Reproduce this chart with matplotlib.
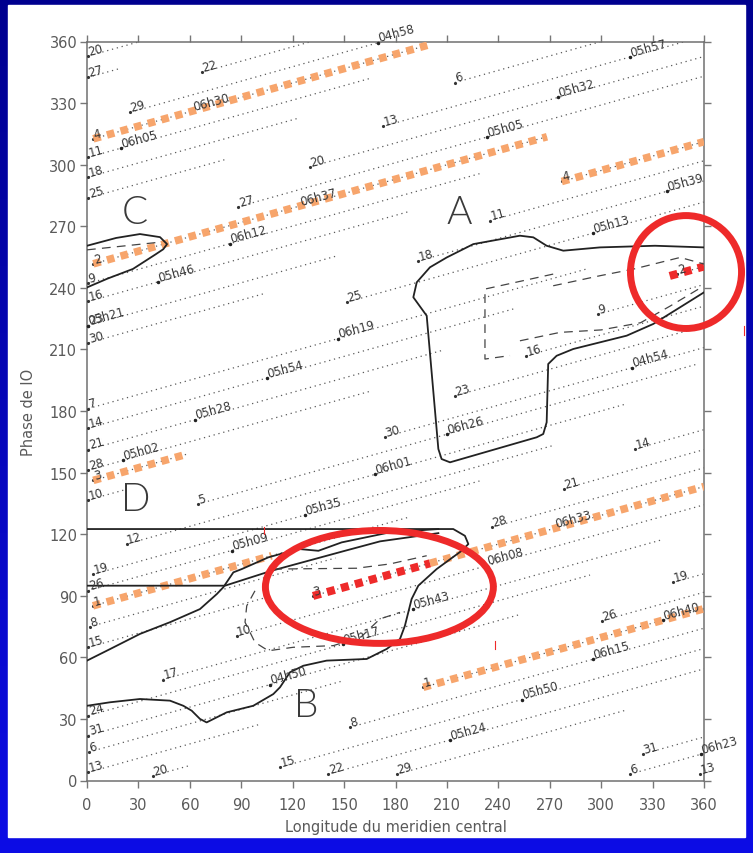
import numpy as np
import matplotlib.pyplot as plt
from matplotlib.patches import Ellipse, Rectangle

# observation tracks: day label, start and end (central meridian longitude, Io phase)
track_day = ["20", "27", "22", "29", "4", "11", "18", "25", "6", "13",
             "20", "27", "2", "9", "16", "23", "30", "4", "11", "18",
             "25", "7", "14", "21", "28", "3", "10", "30", "23", "16",
             "9", "2", "5", "12", "19", "26", "1", "8", "15", "17",
             "24", "31", "6", "13", "20", "15", "22", "29", "8", "1",
             "26", "19", "31", "6", "13", "28", "21", "14", "3", "10"]
track_lon0 = [0.5, 0.5, 66.9, 25.1, 3.7, 0.8, 0.8, 0.8, 214.7, 172.9,
              130.1, 88.3, 3.7, 0.8, 0.8, 0.8, 0.8, 277, 235.1, 193.3,
              151.5, 0.8, 0.8, 0.8, 0.8, 3.7, 0.8, 173.9, 214.7, 256.4,
              298.3, 344.5, 64.9, 23.2, 3.5, 0.8, 3.5, 1.5, 0.8, 44.3,
              0.8, 0.8, 1.2, 0.8, 38.5, 112.8, 140.8, 180.7, 153.4, 196.2,
              300.3, 342, 324.4, 316.8, 357.6, 236.1, 278.3, 319.7, 131.9, 87.3]
track_ph0 = [352.9, 342.5, 345.0, 325.5, 312.6, 303.6, 294.0, 283.8, 340.0, 318.7,
             298.9, 279.5, 251.7, 242.2, 233.4, 221.6, 213.2, 291.8, 272.7, 253.1,
             233.0, 181.2, 171.7, 161.2, 151.2, 146.2, 136.7, 167.4, 187.4, 206.9,
             227.2, 246.8, 134.7, 115.2, 100.4, 92.5, 85.1, 74.9, 64.9, 49.2,
             31.6, 21.9, 13.9, 4.0, 2.3, 6.5, 3.1, 3.0, 25.9, 45.4,
             77.8, 96.5, 12.9, 3.1, 3.1, 123.3, 142.1, 161.5, 89.9, 70.5]
track_lon1 = [31, 19, 131, 172, 200, 165, 124, 81.5, 300, 349,
              360, 360, 268.4, 229, 188, 146, 103, 360, 360, 360,
              360, 292, 250, 208, 166, 58, 22, 360, 360, 360,
              360, 360, 355, 314, 272, 229, 187, 145, 103, 336,
              293.5, 251.5, 150, 101, 60, 360, 360, 315, 360, 360,
              360, 360, 360, 360, 360, 360, 360, 360, 360, 360]
track_ph1 = [360.0, 346.8, 360.0, 359.9, 358.5, 342.0, 322.8, 302.7, 360.0, 360.0,
             352.7, 343.1, 313.6, 295.6, 277.2, 255.6, 237.1, 311.2, 301.9, 292.1,
             281.8, 249.3, 230.0, 209.7, 189.8, 158.9, 141.6, 210.9, 221.4, 231.1,
             241.6, 250.4, 202.6, 183.3, 163.2, 145.9, 128.1, 108.4, 88.8, 117.4,
             100.1, 80.6, 48.7, 27.4, 7.3, 64.3, 54.4, 34.4, 74.2, 83.7,
             91.7, 100.7, 21.2, 13.2, 3.6, 152.3, 161.2, 170.9, 143.2, 134.3]

# times marked along the tracks
time_lbl = ["04h58", "06h30", "06h05", "05h57", "05h32", "05h05", "06h37", "06h12",
            "05h46", "05h21", "05h39", "05h13", "06h19", "05h54", "05h28", "05h02",
            "06h26", "04h54", "06h01", "05h35", "05h09", "06h08", "06h33", "05h43",
            "05h17", "04h50", "06h15", "06h40", "05h50", "05h24", "06h23"]
time_lon = [170, 62, 20, 316.8, 275, 233.2, 124.3, 83.4,
            41.6, 0.8, 338.2, 295.4, 146.6, 104.8, 63.0, 21.2,
            209.9, 317.8, 168.0, 127.2, 84.4, 233.2, 273.0, 190.4,
            149.4, 106.8, 295.4, 336.2, 253.6, 211.8, 358.0]
time_ph = [359.4, 326.2, 308.1, 352.3, 332.9, 313.4, 279.9, 261.5,
           242.9, 221.6, 287.0, 266.6, 215.3, 196.0, 175.8, 156.0,
           168.6, 201.1, 149.1, 129.4, 112.0, 104.7, 122.9, 83.4,
           66.4, 46.7, 59.1, 78.2, 39.4, 19.8, 12.8]

# highlighted stretches of track
orange_lon0 = [3.7, 3.7, 277, 3.7, 3.5, 200.1, 196.2]
orange_ph0 = [312.6, 251.7, 291.8, 146.2, 85.1, 105.8, 45.4]
orange_lon1 = [200, 268.4, 360, 58, 107.7, 360, 360]
orange_ph1 = [358.5, 313.6, 311.2, 158.9, 109.5, 143.2, 83.7]
red_lon0 = [131.9, 340]
red_ph0 = [89.9, 245.8]
red_lon1 = [200.1, 360]
red_ph1 = [105.8, 250.4]

# emission regions
region_name = ["A", "B", "C", "D"]
region_lon = [217, 128, 28, 28.6]
region_ph = [277, 37, 277, 137]

a_lon = [360, 331.4, 299.3, 277.9, 268.2, 260.4, 252.6, 225.4, 209.9, 200.1, 192.4,
         190.4, 198.2, 205, 206.9, 211.8, 262.4, 266.2, 268.2, 269.1, 274, 283.7,
         314.9, 330.4, 346, 360]
a_ph = [259.7, 260.5, 259.7, 258.1, 260.5, 264.6, 265.4, 261.3, 254.8, 250, 242.7,
        235.4, 226.4, 161.5, 156.6, 155, 167.2, 168.8, 174.5, 202.9, 206.9, 210.2,
        216.7, 222.4, 230.5, 237.8]
a_dash1_lon = [272, 232.2, 232.2, 246.8]
a_dash1_ph = [246.7, 239.4, 205.3, 207.0]
a_dash2_lon = [252.6, 276, 300, 323, 340, 358]
a_dash2_ph = [214.2, 218.3, 219.5, 223, 231, 240]
a_dash3_lon = [272, 299.3, 318.7, 346.1, 360]
a_dash3_ph = [241, 245.9, 249.1, 254.8, 251.6]

b_outer_lon = [0, 213.7, 220.5, 222.5, 218.6, 204, 193.3, 189.4, 185.5, 182.6, 174.9,
               163.2, 139.8, 126.2, 118.4, 112.6, 108.7, 97, 81.5, 69.8, 65.9, 61.1,
               56.2, 48.4, 30.9, 13.4, 0]
b_outer_ph = [122.5, 122.5, 119.2, 115.2, 111.9, 103, 94.9, 88.4, 75.4, 68.9, 64.1,
              59.2, 58.4, 55.9, 52.7, 45.4, 42.1, 36.4, 33.2, 28.3, 30, 34,
              36.4, 38.9, 39.7, 38.1, 36.4]
b_upper_lon = [0, 13.4, 30.9, 48.4, 65.9, 75.7, 79.5, 85.4, 90.3, 105.8, 123.3, 135,
               148.6, 176.8, 205]
b_upper_ph = [58.4, 64, 71.4, 77.1, 83.5, 90.8, 94.1, 101.4, 103, 108.7, 112.8, 111.9,
              116, 120.9, 122.5]
b_inner_lon = [0, 80.5, 107.8, 150.5, 171, 205]
b_inner_ph = [94.9, 94.9, 102.2, 111.9, 116.5, 120.5]
b_dash1_lon = [108.7, 157.3, 176.8, 198.2]
b_dash1_ph = [103, 103.4, 105.5, 109.5]
b_dash2_lon = [98, 93.2, 92.2, 98, 105.8, 120.4, 143.7, 160, 170.9, 182.6]
b_dash2_ph = [92.4, 85.1, 77.1, 67.3, 63.2, 64.9, 65.7, 70, 78.7, 81.9]

c_lon = [0, 17, 30.9, 42.6, 46.7, 44.5, 40, 26.8, 12, 0]
c_ph = [260.5, 264.3, 266.2, 264.7, 261.3, 258.8, 256.3, 249.2, 244.5, 240.2]
c_dash_lon = [0, 42]
c_dash_ph = [258.5, 262.2]

# circled features
ring_lon = [170.6, 349.5]
ring_ph = [94.3, 247.7]
ring_w = [133, 64.8]
ring_h = [55.0, 55.0]

# small red ticks
tick_lon = [103.4, 383.3, 238]
tick_ph0 = [120.1, 216.9, 64.1]
tick_ph1 = [123.5, 221.3, 68.0]

W, H = 753, 854
fig = plt.figure(figsize=(W / 100, H / 100), dpi=100)

# blue frame, white sheet
bg = fig.add_axes([0, 0, 1, 1], zorder=-10)
t = np.linspace(0, 1, 256)[:, None]
top_c = np.array([0.0, 0.0, 0.56])
bot_c = np.array([0.05, 0.05, 0.9])
grad = (1 - t)[..., None] * top_c + t[..., None] * bot_c
bg.imshow(grad, aspect="auto", extent=[0, W, H, 0])
bg.add_patch(Rectangle((8, 6), 737, 832, color="white"))
bg.set_xlim(0, W)
bg.set_ylim(H, 0)
bg.axis("off")

ax = fig.add_axes([87 / W, 1 - 781.5 / H, 617 / W, 739 / H])
ax.set_facecolor("white")
ax.set_xlim(0, 360)
ax.set_ylim(0, 360)
ax.set_xticks(np.arange(0, 361, 30))
ax.set_yticks(np.arange(0, 361, 30))
ax.tick_params(direction="out", length=5, width=1, color="#777777",
               labelcolor="#5a5a5a", labelsize=10.5, top=True, right=True)
ax.tick_params(axis="x", pad=7)
ax.tick_params(axis="y", pad=2)
for sp in ax.spines.values():
    sp.set_color("#707070")
    sp.set_linewidth(1.1)
ax.set_xlabel("Longitude du meridien central", fontsize=10.5, color="#5a5a5a")
ax.set_ylabel("Phase de IO", fontsize=10.5, color="#5a5a5a")
ax.xaxis.set_label_coords(0.5, -0.052)
ax.yaxis.set_label_coords(-0.083, 0.5)

lab_kw = dict(rotation=15, rotation_mode="anchor", ha="left", va="baseline",
              fontsize=8.5, color="#383838", zorder=6)

# dotted tracks with their day label
for d, x0, y0, x1, y1 in zip(track_day, track_lon0, track_ph0, track_lon1, track_ph1):
    ax.plot([x0, x1], [y0, y1], color="#5a5a5a", lw=0.9, ls=(0, (1, 3)), zorder=2)
    ax.plot(x0, y0, ".", ms=2.5, color="#333333", zorder=3)
    ax.text(x0 + 0.8, y0 + 0.6, d, **lab_kw)

for s, x, y in zip(time_lbl, time_lon, time_ph):
    ax.plot(x, y, ".", ms=3, color="#222222", zorder=3, clip_on=False)
    ax.text(x + 0.8, y + 0.6, s, **lab_kw)

# orange and red highlights
for x0, y0, x1, y1 in zip(orange_lon0, orange_ph0, orange_lon1, orange_ph1):
    ax.plot([x0, x1], [y0, y1], color="#f7a56c", lw=5.5, ls=(0, (1, 0.85)),
            dash_capstyle="butt", zorder=4)
for x0, y0, x1, y1 in zip(red_lon0, red_ph0, red_lon1, red_ph1):
    ax.plot([x0, x1], [y0, y1], color="#ee2a2a", lw=5.8, ls=(0, (1, 0.8)),
            dash_capstyle="butt", zorder=4)

# region contours
solid = dict(color="#222222", lw=1.3, zorder=5)
dash = dict(color="#444444", lw=0.9, ls=(0, (7, 5)), zorder=5)
ax.plot(a_lon, a_ph, **solid)
ax.plot(b_outer_lon, b_outer_ph, **solid)
ax.plot(b_upper_lon, b_upper_ph, **solid)
ax.plot(b_inner_lon, b_inner_ph, **solid)
ax.plot(c_lon, c_ph, **solid)
ax.plot(a_dash1_lon, a_dash1_ph, **dash)
ax.plot(a_dash2_lon, a_dash2_ph, **dash)
ax.plot(a_dash3_lon, a_dash3_ph, **dash)
ax.plot(b_dash1_lon, b_dash1_ph, **dash)
ax.plot(b_dash2_lon, b_dash2_ph, **dash)
ax.plot(c_dash_lon, c_dash_ph, **dash)

for n, x, y in zip(region_name, region_lon, region_ph):
    ax.text(x, y, n, fontsize=28, fontfamily=["Lato", "DejaVu Sans"], fontweight=300,
            color="#3a3a3a", ha="center", va="center", zorder=6)

for x, y, w, h in zip(ring_lon, ring_ph, ring_w, ring_h):
    ax.add_patch(Ellipse((x, y), w, h, fill=False, ec="#ee2a2a", lw=5,
                         clip_on=False, zorder=7))

for x, y0, y1 in zip(tick_lon, tick_ph0, tick_ph1):
    ax.plot([x, x], [y0, y1], color="#ee2a2a", lw=0.8, clip_on=False, zorder=7)

fig.savefig("out.png", dpi=100)
